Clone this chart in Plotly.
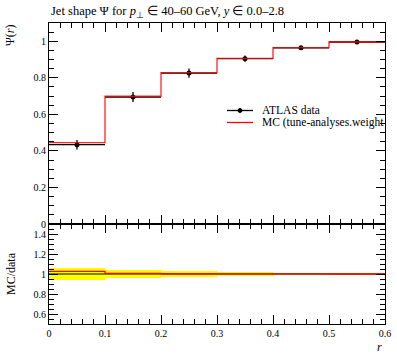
import plotly.graph_objects as go

# ---- data ----
bin_edges = [0.0, 0.1, 0.2, 0.3, 0.4, 0.5, 0.6]
bin_centers = [0.05, 0.15, 0.25, 0.35, 0.45, 0.55]
data_vals = [0.434, 0.695, 0.826, 0.905, 0.964, 0.996]
data_errs = [0.026, 0.028, 0.025, 0.017, 0.005, 0.001]
mc_vals = [0.445, 0.699, 0.828, 0.906, 0.965, 0.996]

title_text = "Jet shape Ψ for <i>p</i><sub>⊥</sub> ∈ 40–60 GeV, <i>y</i> ∈ 0.0–2.8"
legend_labels = ["ATLAS data", "MC (tune-analyses.weight"]

FONT = "Liberation Serif"
W, H = 397, 358
PX0, PX1, PY0, PY1 = 49, 385, 23, 324
L, R, T, B = PX0, W - PX1, PY0, H - PY1
plot_w = PX1 - PX0
plot_h = PY1 - PY0
ratio_h = 100
split = ratio_h / plot_h

ratio_mc = [m / d for m, d in zip(mc_vals, data_vals)]
ratio_err = [e / d for e, d in zip(data_errs, data_vals)]

fig = go.Figure()

# ratio band (data uncertainty)
fig.add_trace(go.Bar(
    x=bin_centers, y=[2 * e for e in ratio_err], base=[1 - e for e in ratio_err],
    width=0.1, marker=dict(color="#ffff00", line=dict(width=0)),
    xaxis="x2", yaxis="y2", showlegend=False, hoverinfo="skip"))
# data ratio line
fig.add_trace(go.Scatter(
    x=bin_edges, y=[1.0] * len(bin_edges), mode="lines",
    line=dict(color="black", width=1), xaxis="x2", yaxis="y2", showlegend=False))
# MC ratio step
fig.add_trace(go.Scatter(
    x=bin_edges, y=ratio_mc + [ratio_mc[-1]], mode="lines", line_shape="hv",
    line=dict(color="#ff0000", width=1.3), xaxis="x2", yaxis="y2", showlegend=False))

# data points
fig.add_trace(go.Scatter(
    x=bin_centers, y=data_vals, mode="markers",
    marker=dict(color="black", size=5),
    error_x=dict(type="constant", value=0.05, color="black", thickness=1.3, width=0),
    error_y=dict(type="data", array=data_errs, color="black", thickness=1.3, width=0),
    xaxis="x", yaxis="y", showlegend=False))
# MC step
fig.add_trace(go.Scatter(
    x=bin_edges, y=mc_vals + [mc_vals[-1]], mode="lines", line_shape="hv",
    line=dict(color="#ff0000", width=1.3), opacity=0.85,
    xaxis="x", yaxis="y", showlegend=False))

tickfont = dict(family=FONT, size=10, color="black")
common_x = dict(range=[0, 0.6], showgrid=False, zeroline=False, showline=True,
                linecolor="black", linewidth=1, mirror="ticks", ticks="inside",
                ticklen=9, tickcolor="black", dtick=0.1, tick0=0,
                minor=dict(dtick=0.02, ticks="inside", ticklen=5, tickcolor="black"))
common_y = dict(showgrid=False, zeroline=False, showline=True, linecolor="black",
                linewidth=1, mirror="ticks", ticks="inside", ticklen=9,
                tickcolor="black", tickfont=tickfont)

fig.update_layout(
    width=W, height=H,
    margin=dict(l=L, r=R, t=T, b=B, autoexpand=False),
    paper_bgcolor="white", plot_bgcolor="white",
    barmode="overlay",
    showlegend=False,
    xaxis=dict(common_x, domain=[0, 1], anchor="y", showticklabels=False, matches="x2"),
    yaxis=dict(common_y, domain=[split, 1], anchor="x", range=[0, 1.1],
               tickvals=[0, 0.2, 0.4, 0.6, 0.8, 1.0], ticktext=["0", "0.2", "0.4", "0.6", "0.8", "1"],
               minor=dict(dtick=0.05, ticks="inside", ticklen=5, tickcolor="black")),
    xaxis2=dict(common_x, domain=[0, 1], anchor="y2", tickfont=tickfont,
                tickvals=[0, 0.1, 0.2, 0.3, 0.4, 0.5, 0.6],
                ticktext=["0", "0.1", "0.2", "0.3", "0.4", "0.5", "0.6"]),
    yaxis2=dict(common_y, domain=[0, split], anchor="x2", range=[0.5, 1.5],
                tickvals=[0.6, 0.8, 1.0, 1.2, 1.4], ticktext=["0.6", "0.8", "1", "1.2", "1.4"],
                minor=dict(dtick=0.05, tick0=0.5, ticks="inside", ticklen=5, tickcolor="black")),
)

def px_x(p):
    return (p - PX0) / plot_w

def px_y(p):
    return (PY1 - p) / plot_h

annotations = [
    dict(text=title_text, x=px_x(49), y=px_y(12.5), xref="paper", yref="paper",
         xanchor="left", yanchor="middle", showarrow=False,
         font=dict(family=FONT, size=12.5, color="black")),
    dict(text="Ψ(<i>r</i>)", x=px_x(10), y=px_y(22), xref="paper", yref="paper",
         xanchor="center", yanchor="top", textangle=-90, showarrow=False,
         font=dict(family=FONT, size=12, color="black")),
    dict(text="MC/data", x=px_x(11), y=px_y(274), xref="paper", yref="paper",
         xanchor="center", yanchor="middle", textangle=-90, showarrow=False,
         font=dict(family=FONT, size=12, color="black")),
    dict(text="<i>r</i>", x=px_x(384), y=px_y(347), xref="paper", yref="paper",
         xanchor="right", yanchor="middle", showarrow=False,
         font=dict(family=FONT, size=12, color="black")),
    dict(text=legend_labels[0], x=px_x(260), y=px_y(110.5), xref="paper", yref="paper",
         xanchor="left", yanchor="middle", showarrow=False,
         font=dict(family=FONT, size=11.5, color="black")),
    dict(text=legend_labels[1], x=px_x(260), y=px_y(122.5), xref="paper", yref="paper",
         xanchor="left", yanchor="middle", showarrow=False,
         font=dict(family=FONT, size=11.5, color="black")),
]
shapes = [
    dict(type="line", xref="paper", yref="paper", x0=px_x(227), x1=px_x(253),
         y0=px_y(110.5), y1=px_y(110.5), line=dict(color="black", width=1.3)),
    dict(type="circle", xref="paper", yref="paper", x0=px_x(238), x1=px_x(242),
         y0=px_y(108.5), y1=px_y(112.5), fillcolor="black", line=dict(color="black", width=1)),
    dict(type="line", xref="paper", yref="paper", x0=px_x(227), x1=px_x(253),
         y0=px_y(122.5), y1=px_y(122.5), line=dict(color="#ff0000", width=1.3)),
]
fig.update_layout(annotations=annotations, shapes=shapes)

fig.write_html("out.html",
               config={"displayModeBar": False},
               post_script="document.body.style.margin='0';document.body.style.overflow='hidden';")
